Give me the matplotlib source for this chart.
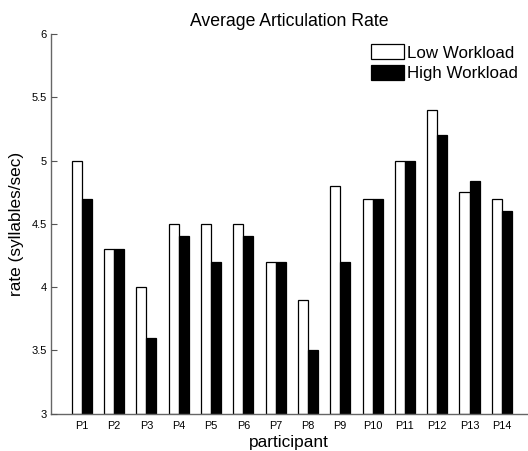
import numpy as np
import matplotlib.pyplot as plt

plt.rcParams['font.family'] = ['Liberation Sans', 'DejaVu Sans']

participants = ['P1', 'P2', 'P3', 'P4', 'P5', 'P6', 'P7',
                'P8', 'P9', 'P10', 'P11', 'P12', 'P13', 'P14']
low_workload = [5.0, 4.3, 4.0, 4.5, 4.5, 4.5, 4.2, 3.9, 4.8, 4.7, 5.0, 5.4, 4.75, 4.7]
high_workload = [4.7, 4.3, 3.6, 4.4, 4.2, 4.4, 4.2, 3.5, 4.2, 4.7, 5.0, 5.2, 4.84, 4.6]

ind = np.arange(1, len(participants) + 1)
width = 0.31

fig = plt.figure(figsize=(5.28, 4.51), dpi=100)
ax = fig.add_axes([0.096, 0.0827, 0.904, 0.842])

rects1 = ax.bar(ind - width / 2, np.array(low_workload) - 3, width, bottom=3,
                color='white', edgecolor='black', linewidth=0.9)
rects2 = ax.bar(ind + width / 2, np.array(high_workload) - 3, width, bottom=3,
                color='black', edgecolor='black', linewidth=0.9)

ax.set_xlim(0.04, 14.81)
ax.set_ylim(3, 6)
ax.set_yticks([3, 3.5, 4, 4.5, 5, 5.5, 6])
ax.set_yticklabels(['3', '3.5', '4', '4.5', '5', '5.5', '6'], fontsize=8)
ax.set_xticks(ind)
ax.set_xticklabels(participants, fontsize=7.8)
ax.tick_params(axis='y', direction='in', length=4, color='#555555', pad=3)
ax.tick_params(axis='x', length=0, pad=5)

for s in ['top', 'right']:
    ax.spines[s].set_visible(False)
for s in ['left', 'bottom']:
    ax.spines[s].set_color('#666666')
    ax.spines[s].set_linewidth(1.0)
ax.set_axisbelow(False)

ax.set_title('Average Articulation Rate', fontsize=12.7, pad=6)
ax.set_xlabel('participant', fontsize=12.4, labelpad=3)
ax.set_ylabel('rate (syllables/sec)', fontsize=12.4, labelpad=5)

ax.legend((rects1[0], rects2[0]), ('Low Workload', 'High Workload'),
          loc='upper right', bbox_to_anchor=(1.0, 1.0), frameon=False,
          fontsize=12.2, handlelength=2.0, handleheight=1.0, handletextpad=0.15,
          labelspacing=0.25, borderaxespad=0.2)

plt.savefig('out.png', dpi=100)
